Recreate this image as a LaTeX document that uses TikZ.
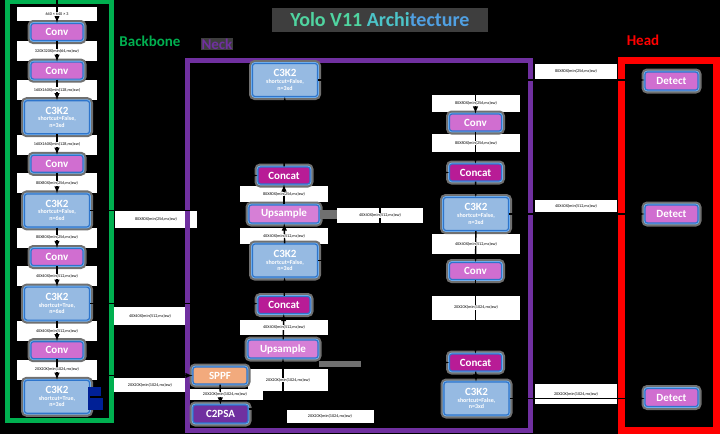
\documentclass[tikz,border=0pt]{standalone}
\usepackage{fontspec}
\setmainfont{Carlito}
\usepackage{xcolor}
\usepackage{tikz}
\usetikzlibrary{shapes,arrows,positioning,calc}

\pgfdeclarelayer{back}
\pgfsetlayers{back,main}

\definecolor{bbgreen}{RGB}{0,176,80}
\definecolor{neckpurple}{RGB}{112,48,160}
\definecolor{headred}{RGB}{255,0,0}
\definecolor{convpink}{RGB}{208,110,208}
\definecolor{catpink}{RGB}{184,28,150}
\definecolor{cblue}{RGB}{150,186,226}
\definecolor{edgeblue}{RGB}{46,117,204}
\definecolor{glowblue}{RGB}{120,180,240}
\definecolor{halogray}{RGB}{112,112,112}
\definecolor{sppforange}{RGB}{242,170,125}
\definecolor{psapurple}{RGB}{112,48,160}
\definecolor{navyblk}{RGB}{0,32,150}
\definecolor{titlegray}{RGB}{62,62,62}
\definecolor{titleA}{RGB}{80,212,160}
\definecolor{titleB}{RGB}{76,196,200}
\definecolor{titleC}{RGB}{80,160,226}

\begin{document}
\begin{tikzpicture}[x=1pt, y=-1pt, node distance=20.4pt, >=latex]
    % Define styles
    \tikzstyle{box} = [rectangle, rounded corners=2.5pt, draw=edgeblue, line width=1.2pt, text=white, font=\bfseries\fontsize{11}{12}\selectfont, inner sep=1pt, preaction={draw=halogray, line width=7pt}, preaction={draw=glowblue, line width=2.8pt}]
    \tikzstyle{conv} = [box, fill=convpink, minimum width=52pt, minimum height=17pt]
    \tikzstyle{concat} = [box, fill=catpink, minimum width=52pt, minimum height=17pt]
    \tikzstyle{upsample} = [box, fill=convpink!88!white, minimum width=70pt, minimum height=18pt]
    \tikzstyle{cthree} = [box, fill=cblue, minimum width=65pt, minimum height=33pt, align=center, font=\bfseries\fontsize{6}{6.6}\selectfont]
    \tikzstyle{sppf} = [box, fill=sppforange, minimum width=54pt, minimum height=17pt]
    \tikzstyle{psa} = [box, fill=psapurple, minimum width=55pt, minimum height=18pt]
    \tikzstyle{detect} = [box, fill=convpink, minimum width=53pt, minimum height=18pt]
    \tikzstyle{dims} = [fill=white, inner sep=0.6pt, text=black, font=\fontsize{4.2}{5}\selectfont]
    \tikzstyle{tab} = [font=\bfseries\fontsize{15}{16}\selectfont, inner sep=1pt]
    \tikzstyle{link} = [draw=black, line width=1.4pt, ->]

    \useasboundingbox (0,0) rectangle (720,434);
    \begin{pgfonlayer}{back}
        \fill[black] (0,0) rectangle (720,434);
    \end{pgfonlayer}

    % Frames and titles
    \draw[bbgreen, line width=5pt] (7.5,1.5) rectangle (111,420);
    \draw[neckpurple, line width=5pt] (187.5,60.5) rectangle (530.5,430);
    \draw[headred, line width=7pt] (621,60) rectangle (716,430.5);
    \node[fill=titlegray, minimum width=216pt, minimum height=24pt, font=\bfseries\fontsize{20}{22}\selectfont] (title) at (380,20)
        {\color{titleA}Yolo V11 \color{titleB}Archi\color{titleC}tecture};
    \node[tab, text=bbgreen] (tabbb) at (150,41) {Backbone};
    \node[tab, text=neckpurple, fill=titlegray] (tabneck) at (217,44) {Neck};
    \node[tab, text=headred] (tabhead) at (643,40) {Head};

    % Backbone
    \coordinate (input) at (57,0);
    \node[conv] (bconv1) at (57,32) {Conv};
    \node[conv, below=of bconv1] (bconv2) {Conv};
    \node[cthree, below=of bconv2] (bc3a) {{\fontsize{11}{11}\selectfont C3K2}\\shortcut=False,\\n=3xd};
    \node[conv, below=of bc3a] (bconv3) {Conv};
    \node[cthree, below=of bconv3] (bc3b) {{\fontsize{11}{11}\selectfont C3K2}\\shortcut=False,\\n=6xd};
    \node[conv, below=of bc3b] (bconv4) {Conv};
    \node[cthree, below=of bconv4] (bc3c) {{\fontsize{11}{11}\selectfont C3K2}\\shortcut=True,\\n=6xd};
    \node[conv, below=of bc3c] (bconv5) {Conv};
    \node[cthree, below=of bconv5] (bc3d) {{\fontsize{11}{11}\selectfont C3K2}\\shortcut=True,\\n=3xd};
    \fill[navyblk] (88,387) rectangle (103,410);

    % Neck, left column
    \node[cthree] (nc3a) at (285,80) {{\fontsize{11}{11}\selectfont C3K2}\\shortcut=False,\\n=3xd};
    \node[concat] (ncat1) at (284,175.5) {Concat};
    \node[upsample] (nups1) at (284,214) {Upsample};
    \node[cthree] (nc3b) at (285,260.5) {{\fontsize{11}{11}\selectfont C3K2}\\shortcut=False,\\n=3xd};
    \node[concat] (ncat2) at (284,305) {Concat};
    \node[upsample] (nups2) at (283,349) {Upsample};
    \node[sppf] (sppf) at (220,375.5) {SPPF};
    \node[psa] (c2psa) at (220.5,414) {C2PSA};
    \draw[halogray, line width=9pt] (nups1.east) -- ++(17,0);
    \draw[halogray, line width=6pt] ([yshift=-5pt]nups2.south east) -- ++(42,0);

    % Neck, right column
    \node[conv] (nconv1) at (475.5,122.5) {Conv};
    \node[concat] (ncat3) at (475.5,172.5) {Concat};
    \node[cthree] (nc3c) at (476,214) {{\fontsize{11}{11}\selectfont C3K2}\\shortcut=False,\\n=3xd};
    \node[conv] (nconv2) at (475.5,271) {Conv};
    \node[concat] (ncat4) at (475.5,362.5) {Concat};
    \node[cthree] (nc3d) at (476.5,398.5) {{\fontsize{11}{11}\selectfont C3K2}\\shortcut=False,\\n=3xd};

    % Head
    \node[detect] (det1) at (671.5,81) {Detect};
    \node[detect] (det2) at (671.5,214) {Detect};
    \node[detect] (det3) at (671.5,397.5) {Detect};

    % Connections
    \draw[link] (input) -- (bconv1);
    \draw[link] (bconv1) -- (bconv2);
    \draw[link] (bconv2) -- (bc3a);
    \draw[link] (bc3a) -- (bconv3);
    \draw[link] (bconv3) -- (bc3b);
    \draw[link] (bc3b) -- (bconv4);
    \draw[link] (bconv4) -- (bc3c);
    \draw[link] (bc3c) -- (bconv5);
    \draw[link] (bconv5) -- (bc3d);
    \draw[link] (bc3b.east) -- ++(140,0) |- (ncat1.west);
    \draw[link] (bc3c.east) -- (ncat2.west |- bc3c.east);
    \draw[link] (bc3d.east) -- ++(12,0) |- (sppf.west);
    \draw[link] (sppf) -- (c2psa);
    \draw[link] ([yshift=5pt]c2psa.east) -| (nups2.south);
    \draw[link] ([yshift=5pt]c2psa.east) -- ++(182,0) |- (ncat4.west);
    \draw[link] (nups2) -- (ncat2);
    \draw[link] (ncat2) -- (nc3b);
    \draw[link] (nc3b) -- (nups1);
    \draw[link] (nc3b.east) -- ++(62,0) |- (ncat3.west);
    \draw[link] (nups1) -- (ncat1);
    \draw[link] (ncat1) -- (nc3a);
    \draw[link] (nc3a.east) -| (nconv1.north);
    \draw[link] (nc3a.east) -- (det1.west |- nc3a.east);
    \draw[link] (nconv1) -- (ncat3);
    \draw[link] (ncat3) -- (nc3c);
    \draw[link] (nc3c) -- (nconv2);
    \draw[link] (nconv2) -- (ncat4);
    \draw[link] (ncat4) -- (nc3d);
    \draw[link] (nc3c.east) -- (det2.west |- nc3c.east);
    \draw[link] (nc3d.east) -- (det3.west |- nc3d.east);

    % Feature map sizes
    \node[dims] (dim0) at ([yshift=9pt]bconv1.north) {640 × 640 × 3};
    \node[dims] (dim1) at ($(bconv1.south)!0.5!(bconv2.north)$) {320X320X(min(64,mc)xw)};
    \node[dims] (dim2) at ($(bconv2.south)!0.5!(bc3a.north)$) {160X160X(min(128,mc)xw)};
    \node[dims] (dim3) at ($(bc3a.south)!0.5!(bconv3.north)$) {160X160X(min(128,mc)xw)};
    \node[dims] (dim4) at ($(bconv3.south)!0.5!(bc3b.north)$) {80X80X(min(256,mc)xw)};
    \node[dims] (dim5) at ($(bc3b.south)!0.5!(bconv4.north)$) {80X80X(min(256,mc)xw)};
    \node[dims] (dim6) at ($(bconv4.south)!0.5!(bc3c.north)$) {40X40X(min(512,mc)xw)};
    \node[dims] (dim7) at ($(bc3c.south)!0.5!(bconv5.north)$) {40X40X(min(512,mc)xw)};
    \node[dims] (dim8) at ($(bconv5.south)!0.5!(bc3d.north)$) {20X20X(min(1024,mc)xw)};
    \node[dims] (xdim1) at (156,219) {80X80X(min(256,mc)xw)};
    \node[dims] (xdim2) at (150,316) {40X40X(min(512,mc)xw)};
    \node[dims] (xdim3) at (150,385) {20X20X(min(1024,mc)xw)};
    \node[dims] (ndim1) at (284,194) {80X80X(min(256,mc)xw)};
    \node[dims] (ndim2) at (284,236) {40X40X(min(512,mc)xw)};
    \node[dims] (ndim3) at (380,215.5) {40X40X(min(512,mc)xw)};
    \node[dims] (ndim4) at (284,327.5) {40X40X(min(512,mc)xw)};
    \node[dims] (ndim5) at (288,380) {20X20X(min(1024,mc)xw)};
    \node[dims] (ndim6) at (225,394.5) {20X20X(min(1024,mc)xw)};
    \node[dims] (ndim7) at (330,416) {20X20X(min(1024,mc)xw)};
    \node[dims] (rdim1) at (476,103.5) {80X80X(min(256,mc)xw)};
    \node[dims] (rdim2) at (476,143) {80X80X(min(256,mc)xw)};
    \node[dims] (rdim3) at (476,244) {40X40X(min(512,mc)xw)};
    \node[dims] (rdim4) at (476,307.5) {20X20X(min(1024,mc)xw)};
    \node[dims] (hdim1) at (576,71) {80X80X(min(256,mc)xw)};
    \node[dims] (hdim2) at (576,206) {40X40X(min(512,mc)xw)};
    \node[dims] (hdim3) at (576,394) {20X20X(min(1024,mc)xw)};

    % White bands behind the sizes
    \begin{pgfonlayer}{back}
        \foreach \n/\bw/\bh in {dim0/80/14, dim1/80/20, dim2/80/20, dim3/80/20, dim4/80/20, dim5/80/20, dim6/80/20, dim7/80/20, dim8/80/20,
                xdim1/82/18, xdim2/74/18, xdim3/74/14,
                ndim1/88/16, ndim2/88/16, ndim3/86/15, ndim4/88/15, ndim5/80/22, ndim6/75/11, ndim7/87/14,
                rdim1/88/17, rdim2/88/18, rdim3/88/20, rdim4/88/24,
                hdim1/82/15, hdim2/82/12, hdim3/82/20}
            \fill[white] ($(\n.center)+(-\bw/2,-\bh/2)$) rectangle ($(\n.center)+(\bw/2,\bh/2)$);
    \end{pgfonlayer}
\end{tikzpicture}
\end{document}
